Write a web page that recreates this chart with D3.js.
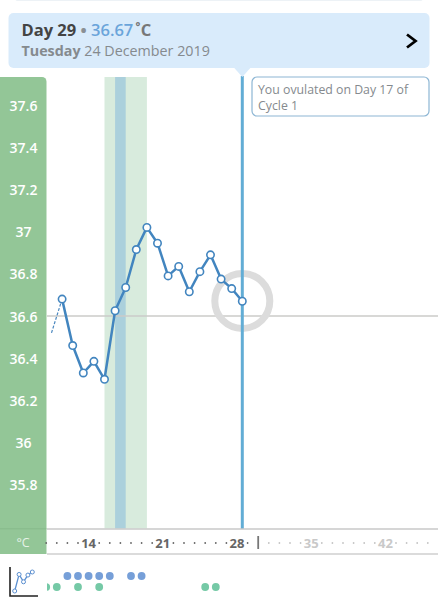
<!DOCTYPE html>
<html>
<head>
<meta charset="utf-8">
<script src="https://cdn.jsdelivr.net/npm/d3@7"></script>
<style>
html,body{margin:0;padding:0;background:#fff;overflow:hidden}
svg{display:block}
text{font-family:"Open Sans",sans-serif}
</style>
</head>
<body>
<svg id="c" width="438" height="600"></svg>
<script>
const days = [12,13,14,15,16,17,18,19,20,21,22,23,24,25,26,27,28,29];
const temps = [36.68,36.46,36.33,36.385,36.30,36.625,36.735,36.915,37.02,36.945,36.79,36.835,36.715,36.81,36.89,36.775,36.73,36.67];
const priorDay = 11, priorTemp = 36.52;
const yTicks = [37.6,37.4,37.2,37,36.8,36.6,36.4,36.2,36,35.8];
const dayLabels = [14,21,28,35,42];
const axisDays = d3.range(10,50);
const cycleEndDay = 30, currentDay = 29, fertileDays = [16,20], ovulationDays = [17,18];
const blueDots = [12,13,14,15,16,18,19];
const greenDots = [10,11,13,15,25,26];
const iconXs = [0,1,2,3,4], iconYs = [0,2.7,1.5,2.6,3.1];

const svg = d3.select("#c");
const x = d3.scaleLinear().domain([29,30]).range([242.3,252.9]);
const xAxisPos = d => x(d) + 5.3;
const y = d3.scaleLinear().domain([36.6,37.6]).range([316,105]);
const fmt = d => String(+d);

svg.append("defs").append("clipPath").attr("id","plot").append("rect")
  .attr("x",47).attr("y",70).attr("width",391).attr("height",530);

// top strip of previous card
svg.append("rect").attr("x",14).attr("y",-8).attr("width",410).attr("height",8.6).attr("rx",4).attr("fill","#dbe6ee");

// green panel
svg.append("path").attr("d","M0,77H42a4.5,4.5 0 0 1 4.5,4.5V554H0Z").attr("fill","#93c697");
const plot = svg.append("g").attr("clip-path","url(#plot)");

// bands
plot.append("rect").attr("x",x(fertileDays[0])).attr("y",77).attr("width",x(fertileDays[1])-x(fertileDays[0])).attr("height",451.5).attr("fill","#d8ebdd");
plot.append("rect").attr("x",x(ovulationDays[0])).attr("y",77).attr("width",x(ovulationDays[1])-x(ovulationDays[0])).attr("height",451.5).attr("fill","#abd0dc");

// baseline
plot.append("line").attr("x1",47).attr("x2",438).attr("y1",y(36.6)).attr("y2",y(36.6)).attr("stroke","#cbcbc9").attr("stroke-width",1.4);

// ring
plot.append("circle").attr("cx",x(currentDay)).attr("cy",y(36.67)-0.3).attr("r",27.5).attr("fill","none").attr("stroke","#dcdcdc").attr("stroke-width",7);

// current day line
plot.append("line").attr("x1",x(currentDay)).attr("x2",x(currentDay)).attr("y1",76).attr("y2",529).attr("stroke","#62add5").attr("stroke-width",3);

// dashed lead-in
plot.append("line").attr("x1",x(priorDay)).attr("y1",y(priorTemp)).attr("x2",x(days[0])).attr("y2",y(temps[0]))
  .attr("stroke","#4a87bf").attr("stroke-width",1.2).attr("stroke-dasharray","3 1.6");

// series
const line = d3.line().x((d,i)=>x(days[i])).y(d=>y(d));
plot.append("path").datum(temps).attr("d",line).attr("fill","none").attr("stroke","#4285bf").attr("stroke-width",2.5).attr("stroke-linejoin","round");
plot.selectAll("circle.pt").data(temps).join("circle").attr("class","pt")
  .attr("cx",(d,i)=>x(days[i])).attr("cy",d=>y(d)).attr("r",3.7)
  .attr("fill","#fff").attr("stroke","#4285bf").attr("stroke-width",1.6);

// y axis labels
const yAxis = d3.axisLeft(y).tickValues(yTicks).tickFormat(fmt).tickSize(0).tickPadding(0);
const yg = svg.append("g").attr("transform","translate(23.5,0)").call(yAxis);
yg.select(".domain").remove();
yg.selectAll("text").attr("x",0).attr("dy","0.36em").attr("text-anchor","middle")
  .attr("fill","#fff").attr("font-size",14).attr("font-weight",600).attr("font-family","'Open Sans',sans-serif");

// bottom axis band
svg.append("line").attr("x1",47).attr("x2",438).attr("y1",529).attr("y2",529).attr("stroke","#c9c9c9").attr("stroke-width",1.5);
svg.append("line").attr("x1",0).attr("x2",46.5).attr("y1",528.8).attr("y2",528.8).attr("stroke","#86b98b").attr("stroke-width",1);
svg.append("line").attr("x1",47).attr("x2",438).attr("y1",554).attr("y2",554).attr("stroke","#cfcfcf").attr("stroke-width",1.5);
svg.append("text").attr("x",23).attr("y",547).attr("text-anchor","middle").attr("fill","#e6f2e7").attr("font-size",12.5).text("°C");

const axisG = svg.append("g");
axisG.selectAll("circle").data(axisDays.filter(d=>!dayLabels.includes(d) && d!==cycleEndDay && xAxisPos(d)<438)).join("circle")
  .attr("cx",xAxisPos).attr("cy",543).attr("r",0.9)
  .attr("fill",d=>d<cycleEndDay?"#666":"#c4c4c4");
axisG.selectAll("text").data(dayLabels).join("text")
  .attr("x",xAxisPos).attr("y",547.8).attr("text-anchor","middle")
  .attr("font-size",13).attr("font-weight",700)
  .attr("fill",d=>d<cycleEndDay?"#666":"#c9c9c9").text(d=>d);
axisG.append("line").attr("x1",xAxisPos(cycleEndDay)).attr("x2",xAxisPos(cycleEndDay)).attr("y1",536).attr("y2",549)
  .attr("stroke","#777").attr("stroke-width",1.8);

// bottom dots
const dots = svg.append("g").attr("clip-path","url(#plot)");
dots.selectAll("circle.b").data(blueDots).join("circle").attr("class","b")
  .attr("cx",xAxisPos).attr("cy",576).attr("r",3.9).attr("fill","#769fd8");
dots.selectAll("circle.g").data(greenDots).join("circle").attr("class","g")
  .attr("cx",xAxisPos).attr("cy",587).attr("r",3.9).attr("fill","#75c9a6");

// icon
const ix = d3.scaleLinear().domain([0,4]).range([14.7,32.3]);
const iy = d3.scaleLinear().domain([0,3.1]).range([591,572]);
svg.append("path").attr("d","M10,567V596H38").attr("fill","none").attr("stroke","#222").attr("stroke-width",1.6);
const iline = d3.line().x((d,i)=>ix(iconXs[i])).y(d=>iy(d));
svg.append("path").datum(iconYs).attr("d",iline).attr("fill","none").attr("stroke","#5b8fd0").attr("stroke-width",1.3);
svg.selectAll("circle.ic").data(iconYs).join("circle").attr("class","ic")
  .attr("cx",(d,i)=>ix(iconXs[i])).attr("cy",d=>iy(d)).attr("r",2).attr("fill","#fff").attr("stroke","#5b8fd0").attr("stroke-width",1);

// header card
svg.append("rect").attr("x",8.5).attr("y",13).attr("width",421).attr("height",55).attr("rx",5).attr("fill","#d9ebfb");
svg.append("path").attr("d",`M${x(currentDay)-8},68H${x(currentDay)+8}L${x(currentDay)},77Z`).attr("fill","#d9ebfb");
const t1 = svg.append("text").attr("x",21.5).attr("y",36).attr("font-size",16.5).attr("font-weight",700);
t1.append("tspan").attr("fill","#444").text("Day 29");
t1.append("tspan").attr("fill","#8a8f94").text(" • ");
t1.append("tspan").attr("fill","#6aa4da").attr("font-weight",600).text("36.67");
t1.append("tspan").attr("fill","#777").text("˚C").attr("dx",2);
const t2 = svg.append("text").attr("x",21.5).attr("y",56).attr("font-size",14.3).attr("fill","#858a8e");
t2.append("tspan").attr("font-weight",700).text("Tuesday");
t2.append("tspan").text(" 24 December 2019");
svg.append("path").attr("d","M407,34.5L415.5,41L407,47.5").attr("fill","none").attr("stroke","#000").attr("stroke-width",2.8);

// note
svg.append("rect").attr("x",252).attr("y",77).attr("width",177).attr("height",39).attr("rx",5).attr("fill","#fff").attr("stroke","#8db6d4").attr("stroke-width",1.2);
svg.append("text").attr("x",258).attr("y",94).attr("font-size",12.3).attr("fill","#858a8e").text("You ovulated on Day 17 of");
svg.append("text").attr("x",258).attr("y",110).attr("font-size",12.3).attr("fill","#858a8e").text("Cycle 1");
</script>
</body>
</html>
